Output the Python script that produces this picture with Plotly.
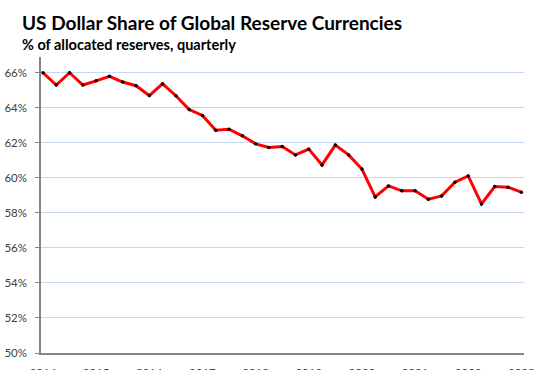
import plotly.graph_objects as go

years = ["2014", "2015", "2016", "2017", "2018", "2019", "2020", "2021", "2022", "2023"]
quarters = list(range(37))  # 2014 Q1 .. 2023 Q1
usd_share = [66.0, 65.3, 66.0, 65.3, 65.54, 65.8, 65.47, 65.26, 64.7, 65.37,
             64.69, 63.9, 63.56, 62.72, 62.78, 62.4, 61.94, 61.73, 61.79, 61.31,
             61.64, 60.74, 61.87, 61.31, 60.5, 58.91, 59.54, 59.26, 59.26, 58.78,
             58.97, 59.75, 60.11, 58.51, 59.5, 59.47, 59.18]
y_ticks = [50, 52, 54, 56, 58, 60, 62, 64, 66]

fig = go.Figure()
fig.add_trace(go.Scatter(
    x=quarters, y=usd_share, mode="lines+markers",
    line=dict(color="#ff0000", width=3),
    marker=dict(color="#000000", size=3.5),
    hoverinfo="skip",
))

fig.update_layout(
    width=540, height=370,
    margin=dict(l=41, r=16, t=57, b=17),
    paper_bgcolor="white", plot_bgcolor="white",
    showlegend=False,
    font=dict(family="Lato, 'Open Sans', sans-serif", color="#404040", size=11),
    xaxis=dict(
        range=[-0.15, 36.2], automargin=False,
        tickmode="array", tickvals=[i * 4 for i in range(len(years))], ticktext=years,
        showgrid=False, zeroline=False,
        showline=True, linecolor="#868686", linewidth=1.5,
        ticks="", ticklabelstandoff=8,
        tickfont=dict(size=11.5, color="#404040"),
    ),
    yaxis=dict(
        range=[50, 66.9], automargin=False,
        tickmode="array", tickvals=y_ticks, ticktext=[f"{v}%" for v in y_ticks],
        showgrid=True, gridcolor="#c6d9f0", gridwidth=1,
        zeroline=False,
        showline=True, linecolor="#868686", linewidth=1.5,
        ticks="outside", ticklen=4, tickcolor="#868686",
        ticklabelstandoff=6,
        tickfont=dict(size=11.5, color="#404040"),
    ),
    annotations=[
        dict(text="<b>US Dollar Share of Global Reserve Currencies</b>",
             xref="paper", yref="paper", x=-21/483, y=1 + (57 - 22) / 296,
             xanchor="left", yanchor="middle", showarrow=False,
             font=dict(size=19, color="#000000", family="Lato, sans-serif")),
        dict(text="<b>% of allocated reserves, quarterly</b>",
             xref="paper", yref="paper", x=-21/483, y=1 + (57 - 44) / 296,
             xanchor="left", yanchor="middle", showarrow=False,
             font=dict(size=14.5, color="#000000", family="Lato, sans-serif")),
    ],
)

fig.write_html("out.html", config={"displayModeBar": False},
               post_script="document.body.style.margin='0';")
